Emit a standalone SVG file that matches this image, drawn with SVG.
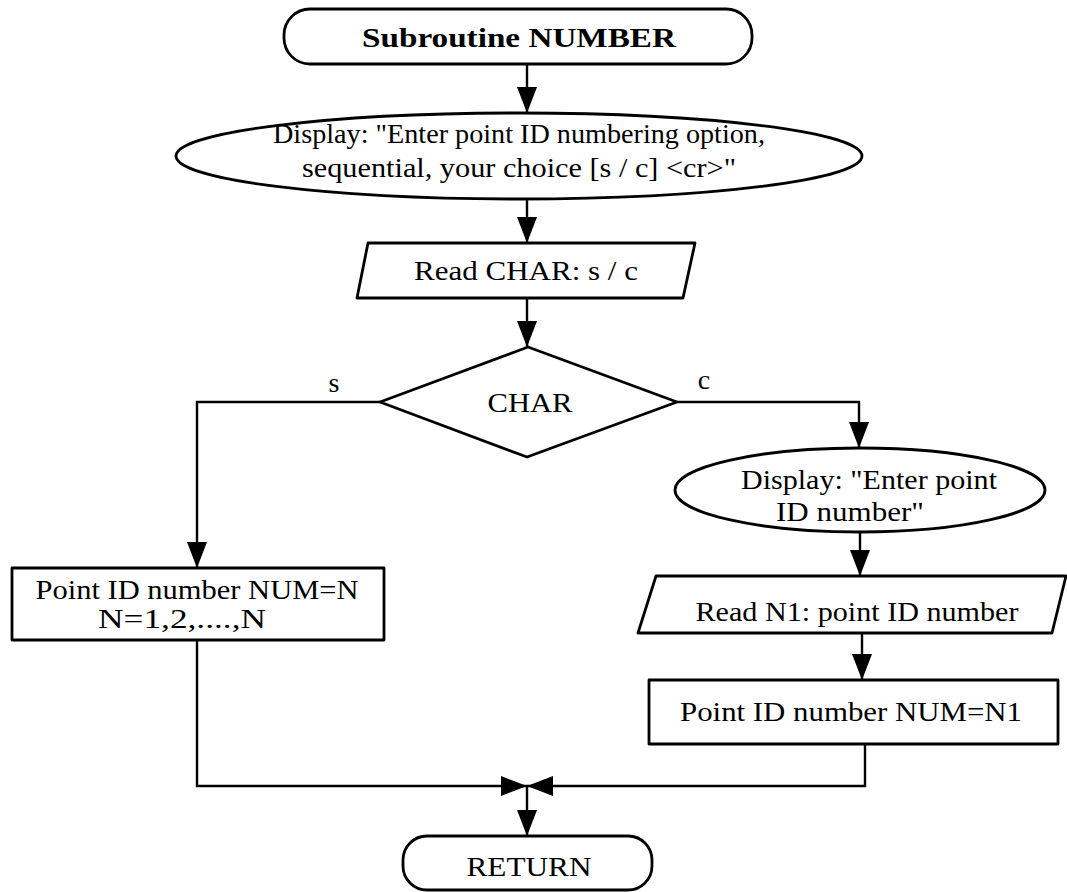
<svg xmlns="http://www.w3.org/2000/svg" width="1067" height="892" viewBox="0 0 1067 892">
  <style>
    .shape { fill: #ffffff; stroke: #000000; stroke-width: 2.8; stroke-linejoin: round; }
    .conn { fill: none; stroke: #000000; stroke-width: 2.4; }
    .lbl { font-family: "Liberation Serif", "Times New Roman", serif; font-size: 28px; fill: #000000; }
    .title { font-family: "Liberation Serif", "Times New Roman", serif; font-size: 28px; font-weight: bold; fill: #000000; }
  </style>
  <defs>
    <marker id="arrow" markerUnits="userSpaceOnUse" markerWidth="26" markerHeight="20" refX="26" refY="10" orient="auto">
      <path d="M0,0 L26,10 L0,20 z" fill="#000000"/>
    </marker>
  </defs>
  <rect width="1067" height="892" fill="#ffffff"/>

  <!-- connectors -->
  <g id="connectors">
    <path class="conn" d="M527,64 V113" marker-end="url(#arrow)"/>
    <path class="conn" d="M527,199 V243" marker-end="url(#arrow)"/>
    <path class="conn" d="M527,298 V347" marker-end="url(#arrow)"/>
    <path class="conn" d="M380,402 H197 V568" marker-end="url(#arrow)"/>
    <path class="conn" d="M677,402 H859 V448" marker-end="url(#arrow)"/>
    <path class="conn" d="M860,532 V576" marker-end="url(#arrow)"/>
    <path class="conn" d="M862,633 V680" marker-end="url(#arrow)"/>
    <path class="conn" d="M197,640 V786 H527" marker-end="url(#arrow)"/>
    <path class="conn" d="M865,744 V786 H527" marker-end="url(#arrow)"/>
    <path class="conn" d="M527,786 V836" marker-end="url(#arrow)"/>
    <text class="lbl" x="334" y="392" text-anchor="middle">s</text>
    <text class="lbl" x="704" y="389" text-anchor="middle">c</text>
  </g>

  <!-- start terminal -->
  <g id="start">
    <rect class="shape" x="284" y="9" width="468" height="55" rx="26" ry="26"/>
    <text class="title" x="519" y="47" text-anchor="middle" textLength="314" lengthAdjust="spacingAndGlyphs">Subroutine  NUMBER</text>
  </g>

  <!-- prompt for numbering option -->
  <g id="display-option">
    <ellipse class="shape" cx="519" cy="156" rx="343" ry="43"/>
    <text class="lbl" x="519" y="143" text-anchor="middle" textLength="492" lengthAdjust="spacingAndGlyphs">Display: "Enter point ID numbering option,</text>
    <text class="lbl" x="519" y="177" text-anchor="middle" textLength="434" lengthAdjust="spacingAndGlyphs">sequential, your choice [s / c] &lt;cr&gt;"</text>
  </g>

  <!-- read the option character -->
  <g id="read-char">
    <polygon class="shape" points="368,243 695,243 683,298 357,298"/>
    <text class="lbl" x="526" y="280" text-anchor="middle" textLength="224" lengthAdjust="spacingAndGlyphs">Read CHAR: s / c</text>
  </g>

  <!-- branch on CHAR -->
  <g id="decision-char">
    <polygon class="shape" points="528,347 677,402 527,457 380,402"/>
    <text class="lbl" x="530" y="412" text-anchor="middle" textLength="85" lengthAdjust="spacingAndGlyphs">CHAR</text>
  </g>

  <!-- sequential numbering -->
  <g id="sequential">
    <rect class="shape" x="12" y="568" width="372" height="72"/>
    <text class="lbl" x="197" y="599" text-anchor="middle" textLength="323" lengthAdjust="spacingAndGlyphs">Point ID number NUM=N</text>
    <text class="lbl" x="182" y="628" text-anchor="middle" textLength="168" lengthAdjust="spacingAndGlyphs">N=1,2,....,N</text>
  </g>

  <!-- prompt for a chosen number -->
  <g id="display-number">
    <ellipse class="shape" cx="860" cy="490" rx="185" ry="42"/>
    <text class="lbl" x="869" y="489" text-anchor="middle" textLength="256" lengthAdjust="spacingAndGlyphs">Display: "Enter point</text>
    <text class="lbl" x="850" y="521" text-anchor="middle" textLength="148" lengthAdjust="spacingAndGlyphs">ID number"</text>
  </g>

  <!-- read the chosen number -->
  <g id="read-n1">
    <polygon class="shape" points="656,576 1066,576 1052,633 638,633"/>
    <text class="lbl" x="857" y="621" text-anchor="middle" textLength="323" lengthAdjust="spacingAndGlyphs">Read N1: point ID number</text>
  </g>

  <!-- chosen numbering -->
  <g id="chosen">
    <rect class="shape" x="649" y="680" width="409" height="64"/>
    <text class="lbl" x="851" y="721" text-anchor="middle" textLength="342" lengthAdjust="spacingAndGlyphs">Point ID number NUM=N1</text>
  </g>

  <!-- end terminal -->
  <g id="return">
    <rect class="shape" x="403" y="836" width="249" height="54" rx="24" ry="24"/>
    <text class="lbl" x="529" y="876" text-anchor="middle" textLength="125" lengthAdjust="spacingAndGlyphs">RETURN</text>
  </g>
</svg>
